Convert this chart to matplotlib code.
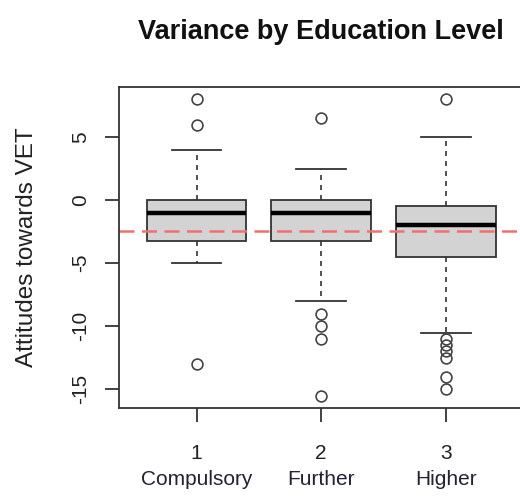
import matplotlib
matplotlib.use('Agg')
import matplotlib.pyplot as plt
from matplotlib import transforms

plt.rcParams['font.family'] = ['Liberation Sans', 'DejaVu Sans']
plt.rcParams['axes.unicode_minus'] = False

# five-number summaries per education level
levels = ['Compulsory', 'Further', 'Higher']
positions = [1, 2, 3]
q1 = [-3.25, -3.25, -4.5]
medians = [-1, -1, -2]
q3 = [0, 0, -0.5]
whisk_lo = [-5, -8, -10.5]
whisk_hi = [4, 2.5, 5]
outliers = [
    [8, 6, -13],
    [6.5, -9, -10, -11, -15.5],
    [8, -11, -11.5, -12, -12.5, -14, -15],
]
overall_mean = -2.45

stats = []
for i in range(len(levels)):
    stats.append({'med': medians[i], 'q1': q1[i], 'q3': q3[i],
                  'whislo': whisk_lo[i], 'whishi': whisk_hi[i],
                  'fliers': outliers[i], 'label': str(positions[i])})

fig = plt.figure(figsize=(5.2, 4.96), dpi=100)
ax = fig.add_axes([0.2294, 0.178, 0.7764, 0.6472])

ink = '#333333'
ax.bxp(stats, positions=positions, widths=0.8, patch_artist=True,
       boxprops=dict(facecolor='#d3d3d3', edgecolor=ink, linewidth=1.3),
       medianprops=dict(color='black', linewidth=3.2, solid_capstyle='butt'),
       whiskerprops=dict(color=ink, linewidth=1.2, linestyle=(0, (3, 3))),
       capprops=dict(color=ink, linewidth=1.3),
       capwidths=0.4,
       flierprops=dict(marker='o', markersize=7.8, markerfacecolor='none',
                       markeredgecolor='#444444', markeredgewidth=1.2))

ax.axhline(overall_mean, color='#f07070', linewidth=1.8, linestyle=(0, (6, 3)))

ax.set_xlim(0.38, 3.62)
ax.set_ylim(-16.46, 9.0)
ax.set_yticks([-15, -10, -5, 0, 5])
ax.set_xticks(positions)
ax.set_xticklabels([str(p) for p in positions])

for side in ['left', 'bottom', 'top', 'right']:
    ax.spines[side].set_color(ink)
    ax.spines[side].set_linewidth(1.3)

ax.tick_params(axis='both', length=10, width=1.3, color=ink,
               labelsize=15, labelcolor='#222222')
ax.tick_params(axis='x', pad=16)
ax.tick_params(axis='y', pad=11)
for lbl in ax.get_yticklabels():
    lbl.set_rotation(90)
    lbl.set_va('center')

fig.text(0.052, 0.5 * (0.178 + 0.8252), 'Attitudes towards VET', rotation=90,
         ha='center', va='center', fontsize=17.5, color='#222222')

# group names under the tick numbers
trans = transforms.blended_transform_factory(ax.transData, fig.transFigure)
for p, name in zip(positions, levels):
    ax.text(p, 0.022, name, transform=trans, ha='center', va='baseline',
            fontsize=15, color='#222233')

fig.text(0.6175, 1 - 39.3 / 496, 'Variance by Education Level', ha='center',
         va='baseline', fontsize=19.5, fontweight='bold', color='#111111')

fig.savefig('out.png', dpi=100)
